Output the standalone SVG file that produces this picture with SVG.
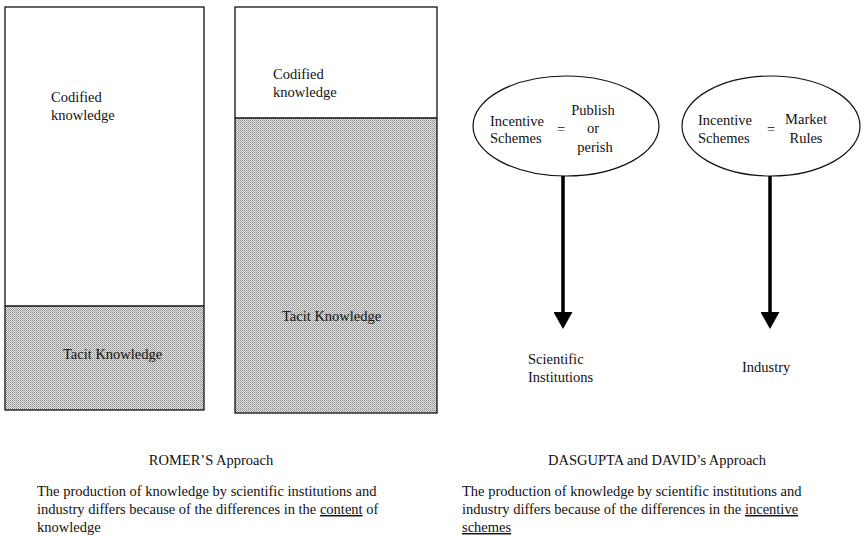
<svg xmlns="http://www.w3.org/2000/svg" width="865" height="536" viewBox="0 0 865 536">
<defs>
<pattern id="dots" width="2" height="2" patternUnits="userSpaceOnUse">
<rect width="2" height="2" fill="#e6e6e6"/>
<rect x="0" y="0" width="1" height="1" fill="#8a8a8a"/>
<rect x="1" y="1" width="1" height="1" fill="#a8a8a8"/>
</pattern>
<marker id="ah" markerWidth="17" markerHeight="19" refX="1" refY="9.5" orient="auto" markerUnits="userSpaceOnUse" viewBox="0 0 17 19">
<path d="M0,0 L17,9.5 L0,19 Z" fill="#000"/>
</marker>
</defs>
<style>
text{font-family:'Liberation Serif','Times New Roman','DejaVu Serif',serif;font-size:14.5px;fill:#111}
.box{fill:none;stroke:#111;stroke-width:1.3}
.tacit{fill:url(#dots);stroke:none}
.div{stroke:#111;stroke-width:1.6}
.ell{fill:#fff;stroke:#111;stroke-width:1.2}
.arrow{stroke:#000;stroke-width:3.5;fill:none}
.u{text-decoration:underline}
.c{text-anchor:middle}
</style>
<rect width="865" height="536" fill="#fff"/>

<g id="romer-left-box">
<rect class="tacit" x="5" y="306" width="199" height="104"/>
<rect class="box" x="5" y="7" width="199" height="403"/>
<line class="div" x1="5" y1="306" x2="204" y2="306"/>
<text x="51" y="102">Codified</text>
<text x="51" y="120">knowledge</text>
<text x="63" y="359">Tacit Knowledge</text>
</g>

<g id="romer-right-box">
<rect class="tacit" x="235" y="118" width="202" height="295"/>
<rect class="box" x="235" y="7" width="202" height="406"/>
<line class="div" x1="235" y1="118" x2="437" y2="118"/>
<text x="273" y="79">Codified</text>
<text x="273" y="97">knowledge</text>
<text x="282" y="321">Tacit Knowledge</text>
</g>

<g id="science-ellipse">
<ellipse class="ell" cx="566" cy="126" rx="93" ry="50"/>
<text x="490" y="126">Incentive</text>
<text x="490" y="143">Schemes</text>
<text x="561" y="134" class="c">=</text>
<text x="593" y="115" class="c">Publish</text>
<text x="593" y="133" class="c">or</text>
<text x="595" y="152" class="c">perish</text>
</g>

<g id="industry-ellipse">
<ellipse class="ell" cx="771" cy="126" rx="89" ry="50"/>
<text x="698" y="125">Incentive</text>
<text x="698" y="143">Schemes</text>
<text x="771" y="134" class="c">=</text>
<text x="806" y="124" class="c">Market</text>
<text x="806" y="143" class="c">Rules</text>
</g>

<g id="connectors">
<line class="arrow" x1="563" y1="176" x2="563" y2="313" marker-end="url(#ah)"/>
<line class="arrow" x1="770" y1="176" x2="770" y2="313" marker-end="url(#ah)"/>
</g>

<g id="scientific-institutions">
<text x="528" y="364">Scientific</text>
<text x="528" y="382">Institutions</text>
</g>

<g id="industry">
<text x="742" y="372">Industry</text>
</g>

<g id="romer-caption">
<text x="211" y="465" class="c">ROMER’S Approach</text>
<text x="37" y="496">The production of knowledge by scientific institutions and</text>
<text x="37" y="514">industry differs because of the differences in the <tspan class="u">content</tspan> of</text>
<text x="37" y="532">knowledge</text>
</g>

<g id="dasgupta-caption">
<text x="657" y="465" class="c">DASGUPTA and DAVID’s Approach</text>
<text x="462" y="496">The production of knowledge by scientific institutions and</text>
<text x="462" y="514">industry differs because of the differences in the <tspan class="u">incentive</tspan></text>
<text x="462" y="532"><tspan class="u">schemes</tspan></text>
</g>
</svg>
